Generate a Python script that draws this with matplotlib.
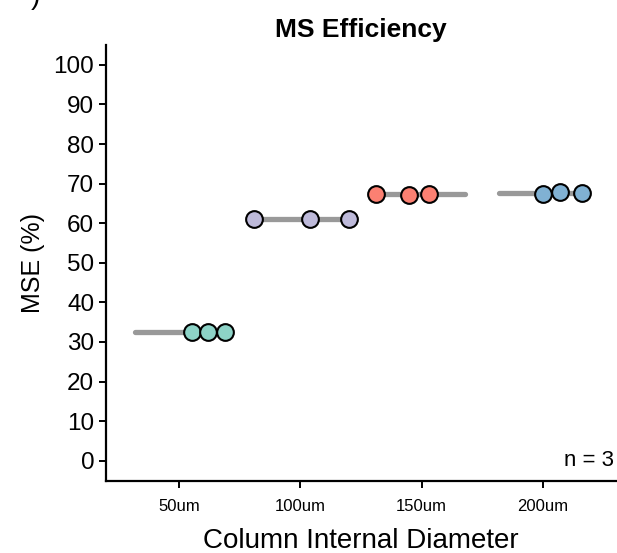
import matplotlib.pyplot as plt
import numpy as np

plt.rcParams['font.family'] = ['Liberation Sans', 'DejaVu Sans']

categories = ['50um', '100um', '150um', '200um']
colors = ['#8DD3C7', '#BEBADA', '#FB8072', '#80B1D3']

# MSE values (%) per replicate
mse_50 = [32.4, 32.4, 32.4]
mse_100 = [61.1, 61.1, 61.1]
mse_150 = [67.4, 67.2, 67.4]
mse_200 = [67.4, 67.8, 67.6]
values = [mse_50, mse_100, mse_150, mse_200]

# horizontal jitter of each point inside its category
jitter_50 = [0.105, 0.24, 0.38]
jitter_100 = [-0.385, 0.08, 0.40]
jitter_150 = [-0.38, -0.105, 0.06]
jitter_200 = [0.0, 0.14, 0.32]
jitters = [jitter_50, jitter_100, jitter_150, jitter_200]

fig = plt.figure(figsize=(6.17, 5.53), dpi=100)
ax = fig.add_axes([0.1718, 0.131, 0.8266, 0.7876])

for i, (vals, jit, col) in enumerate(zip(values, jitters, colors)):
    pos = i + 1
    m = np.mean(vals)
    ax.plot([pos - 0.36, pos + 0.36], [m, m], color='#999999', lw=3.8,
            solid_capstyle='round', zorder=2)
    ax.scatter(pos + np.array(jit), vals, s=145, color=col, edgecolor='black',
               linewidth=1.5, zorder=3)

ax.set_xlim(0.4, 4.6)
ax.set_ylim(-5, 105)
ax.set_xticks(range(1, 5))
ax.set_xticklabels(categories, fontsize=12)
ax.set_yticks(range(0, 101, 10))
ax.tick_params(axis='y', labelsize=17.5, length=5, width=1.4)
ax.tick_params(axis='x', length=5, width=1.4, pad=8)
for side in ['top', 'right']:
    ax.spines[side].set_visible(False)
for side in ['left', 'bottom']:
    ax.spines[side].set_linewidth(1.6)

ax.set_xlabel('Column Internal Diameter', fontsize=20, labelpad=10)
ax.set_ylabel('MSE (%)', fontsize=18, labelpad=6)
ax.set_title('MS Efficiency', fontsize=19, fontweight='bold', pad=6)
ax.text(4.58, 0, 'n = 3', fontsize=16, ha='right', va='center')

fig.text(0.05, 1.005, ')', fontsize=20, ha='left', va='center')

fig.savefig('out.png', dpi=100)
